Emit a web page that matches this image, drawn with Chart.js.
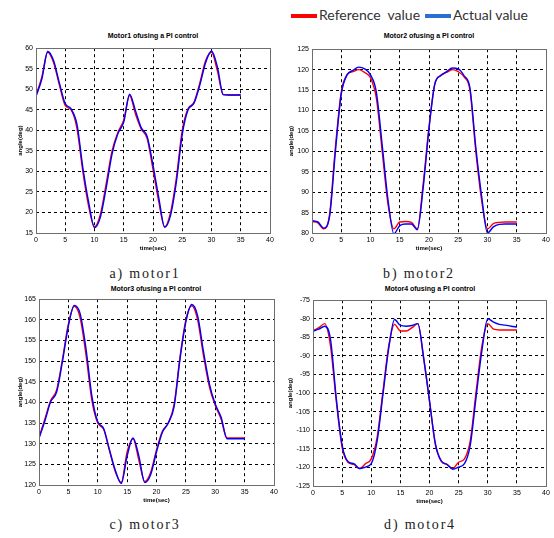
<!DOCTYPE html>
<html>
<head>
<meta charset="utf-8">
<script src="https://cdn.jsdelivr.net/npm/chart.js@4.4.1/dist/chart.umd.min.js"></script>
<style>
  html, body { margin: 0; padding: 0; background: #fff; }
  body { width: 554px; height: 538px; position: relative; overflow: hidden; }
  .box { position: absolute; }
  .ttl { position: absolute; font: bold 7px "Liberation Sans", Arial, sans-serif; color: #000; transform: translate(-50%, -50%); white-space: nowrap; }
  .cap { position: absolute; font: 14px "Liberation Serif", "DejaVu Serif", serif; letter-spacing: 1.8px; color: #222; transform: translate(-50%, -50%); white-space: nowrap; }
  .lg-line { position: absolute; height: 4px; }
  .lg-text { position: absolute; font: 14px Lato, "Noto Sans", sans-serif; color: #333; white-space: nowrap; top: 6px; }
</style>
</head>
<body>

<div class="lg-line" style="left:291px;top:14px;width:26px;background:#ff0000"></div>
<div class="lg-text" style="left:319px">Reference&nbsp; value</div>
<div class="lg-line" style="left:425px;top:14px;width:26px;background:#2a70d4"></div>
<div class="lg-text" style="left:453px">Actual value</div>

<div class="ttl" style="left:153px;top:35px">Motor1 ofusing a PI control</div>
<div class="ttl" style="left:429px;top:35px">Motor2 ofusing a PI control</div>
<div class="ttl" style="left:156px;top:288px">Motor3 ofusing a PI control</div>
<div class="ttl" style="left:430px;top:288px">Motor4 ofusing a PI control</div>

<div class="cap" style="left:145px;top:274px">a) motor1</div>
<div class="cap" style="left:419px;top:274px">b) motor2</div>
<div class="cap" style="left:145px;top:525px">c) motor3</div>
<div class="cap" style="left:420px;top:525px">d) motor4</div>

<div class="box" style="left:0px;top:41px;width:278px;height:218px"><canvas id="c1"></canvas></div>
<div class="box" style="left:276px;top:42px;width:278px;height:217px"><canvas id="c2"></canvas></div>
<div class="box" style="left:3px;top:292px;width:279px;height:219px"><canvas id="c3"></canvas></div>
<div class="box" style="left:277px;top:293px;width:277px;height:219px"><canvas id="c4"></canvas></div>

<script>
// time axis (sec)
const time = [0,1,2,3,4,5,6,7,8,9,10,11,12,13,14,15,16,17,18,19,20,21,22,23,24,25,26,27,28,29,30,31,32,33,34,35];

// motor1
const m1Ref = [48.5,53,59,56.5,51,46,45,40.5,30,21.5,16.5,19.5,27,35,39.5,42.5,48.5,44,40.3,38,30.5,22.5,16.5,20,28.5,40,45.3,46.8,51.5,57,59,54.5,48.7,48.6,48.6,48.6];
const m1Act = [48.3,52.5,59.2,57,51.5,46.5,45.2,41.5,31,22.5,16.3,18.8,26,34.2,39.2,42,48.8,44.8,40.6,38.5,31.5,23.5,16.4,19.3,27.5,39,45,46.6,51,56.5,59.3,55.5,48.7,48.6,48.6,48.6];

// motor2
const m2Ref = [82.8,82.5,81,84.5,101,114.5,118.8,119.5,120,119.3,118,113,100,87,81,82.7,82.8,82.6,81,92,106,116.5,118.6,119.3,120,119.5,118.2,115,100,88,81,82.3,82.6,82.7,82.7,82.7];
const m2Act = [83,82.7,81.2,84,100,114,118.7,119.8,120.6,120.2,118.7,114.5,101.5,88,79.8,81.8,82.2,82.2,80.8,91,105.5,116.5,118.5,119.5,120.4,120.2,118.5,115.5,101,89,80,81.5,82.1,82.2,82.2,82.2];

// motor3
const m3Ref = [131.5,136,140.5,143,150.5,159,163.3,160.5,151.5,140.5,135,133.5,128.3,123.2,120.6,128,131.2,126,120.8,123,128.5,133,135,139.5,151,160,163.4,160,151.3,143.8,139.3,135.9,131.4,131.4,131.4,131.4];
const m3Act = [131.3,135.5,140.2,142.5,150,158.5,163.5,161.5,153,141.5,135.3,133.7,128.5,123.5,120.4,127,131.4,127,120.6,122.5,128,132.8,135,139,150.5,159.5,163.7,161,152.3,144.5,139.6,136.4,131.2,131.2,131.2,131.2];

// motor4
const m4Ref = [-83.3,-82.4,-81.3,-87.3,-102.2,-114.6,-118.6,-119.2,-120.3,-119,-117.7,-112,-99.6,-87.3,-81.5,-83.3,-83.3,-82.4,-81.3,-90.8,-102.2,-113.8,-118.3,-119.2,-120.3,-118.6,-117.7,-112.8,-99.6,-87.3,-81.3,-82.8,-83,-83,-83,-83];
const m4Act = [-83.3,-82.8,-82,-85.5,-101.5,-114,-118.4,-119,-120.3,-119.9,-119,-113,-100.5,-88,-80.2,-81.8,-82,-81.8,-81.3,-90.5,-102,-113.5,-118.2,-119.2,-120.5,-119.9,-119,-114,-101,-88.5,-80,-80.9,-81.5,-81.7,-82,-82.2];

const xTicks = [0,5,10,15,20,25,30,35,40];

const tickFont = { family: "'Liberation Sans', Arial, sans-serif", size: 7 };
const labelFont = { family: "'Liberation Sans', Arial, sans-serif", size: 6, weight: 'bold' };

// frame round the plot area
const frame = {
    id: 'frame',
    afterDraw(chart) {
        const { ctx, chartArea: a } = chart;
        ctx.save();
        ctx.strokeStyle = '#6e6e6e';
        ctx.lineWidth = 1;
        ctx.strokeRect(Math.round(a.left) + 0.5, Math.round(a.top) + 0.5,
            Math.round(a.right - a.left), Math.round(a.bottom - a.top));
        ctx.restore();
    }
};

function pts(ys) {
    return time.map((t, i) => ({ x: t, y: ys[i] }));
}

function makeChart(id, ref, act, yMin, yMax, yTitleOff) {
    return new Chart(document.getElementById(id), {
        type: 'line',
        data: {
            datasets: [
                { label: 'Actual value', data: pts(act), borderColor: '#0000ff', borderWidth: 1.4 },
                { label: 'Reference value', data: pts(ref), borderColor: '#ff0000', borderWidth: 1.4 }
            ]
        },
        options: {
            responsive: true,
            maintainAspectRatio: false,
            animation: false,
            layout: { padding: { top: 4, right: 8, left: 0, bottom: 0 } },
            elements: {
                point: { radius: 0 },
                line: { cubicInterpolationMode: 'monotone', fill: false }
            },
            plugins: { legend: { display: false }, tooltip: { enabled: false } },
            scales: {
                x: {
                    type: 'linear', min: 0, max: 40,
                    afterBuildTicks: s => { s.ticks = xTicks.map(v => ({ value: v })); },
                    afterFit: s => { s.height = 26; },
                    grid: { color: '#000', lineWidth: 1, drawTicks: false },
                    border: { display: false, dash: [3, 3] },
                    ticks: { color: '#000', font: tickFont, padding: 3, maxRotation: 0 },
                    title: { display: true, text: 'time(sec)', color: '#000', font: labelFont, padding: { top: 0, bottom: 7 } }
                },
                y: {
                    min: yMin, max: yMax,
                    afterFit: s => { s.width = 36; },
                    grid: { color: '#000', lineWidth: 1, drawTicks: false },
                    border: { display: false, dash: [3, 3] },
                    ticks: { color: '#000', font: tickFont, padding: 3, stepSize: 5 },
                    title: { display: true, text: 'angle(deg)', color: '#000', font: labelFont, padding: { top: yTitleOff, bottom: 0 } }
                }
            }
        },
        plugins: [frame]
    });
}

makeChart('c1', m1Ref, m1Act, 15, 60, 17);
makeChart('c2', m2Ref, m2Act, 80, 125, 12);
makeChart('c3', m3Ref, m3Act, 120, 165, 14);
makeChart('c4', m4Ref, m4Act, -125, -75, 10);
</script>
</body>
</html>
